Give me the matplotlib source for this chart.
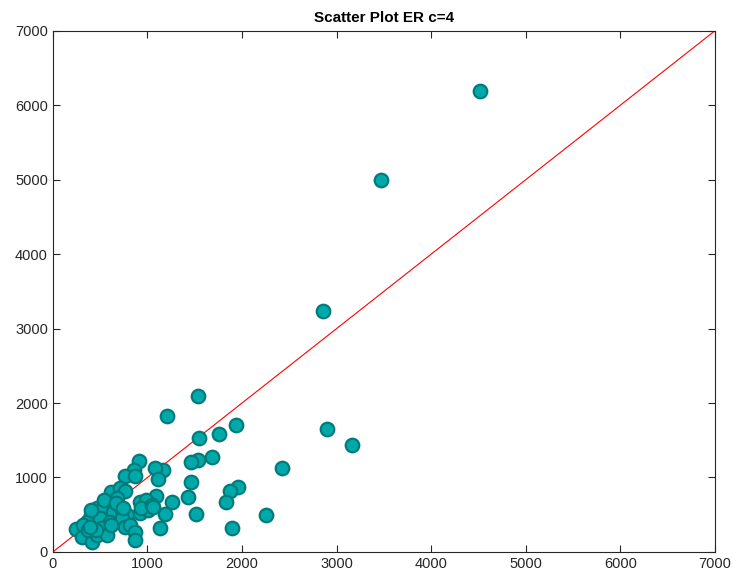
import matplotlib
matplotlib.use('Agg')
import matplotlib.pyplot as plt

plt.rcParams['font.family'] = ['Liberation Sans', 'DejaVu Sans']

# estimated values
x_vals = [4515, 3470, 2855, 2900, 3160, 2420, 1537, 1205, 1932, 1547, 1759,
          1678, 1530, 1456, 1160, 1075, 1117, 1459, 1956, 1872, 1086, 1431,
          1836, 1265, 1181, 1509, 2249, 1135, 1896,
          913, 857, 768, 867, 620, 708, 761, 673, 568, 462, 427, 531, 638,
          726, 779, 391, 356, 497, 603, 726, 250, 303, 409, 462, 514, 568,
          620, 761, 814, 867, 867, 320, 373, 920, 990, 920, 1008, 937, 1044,
          1057, 458, 405, 546, 670, 740, 388]
y_vals = [6190, 5000, 3240, 1650, 1440, 1130, 2090, 1830, 1711, 1527, 1581,
          1276, 1236, 1209, 1102, 1124, 981, 945, 878, 820, 748, 744,
          667, 676, 511, 511, 492, 318, 318,
          1223, 1102, 1025, 1025, 811, 855, 820, 721, 676, 587, 520, 587, 543,
          564, 497, 452, 407, 452, 407, 452, 309, 206, 130, 228, 318, 228,
          363, 340, 363, 273, 161, 363, 296, 676, 699, 520, 564, 587, 631,
          609, 296, 564, 699, 654, 587, 340]
line_x = [0, 7000]
line_y = [0, 7000]
x_ticks = [0, 1000, 2000, 3000, 4000, 5000, 6000, 7000]
y_ticks = [0, 1000, 2000, 3000, 4000, 5000, 6000, 7000]

fig = plt.figure(figsize=(7.34, 5.81), dpi=100)
ax = fig.add_axes([0.072, 0.050, 0.902, 0.897])

ax.scatter(x_vals, y_vals, s=95, c='#00a9a9', edgecolors='#007b7b',
           linewidths=1.6, zorder=3)
ax.plot(line_x, line_y, color='red', linewidth=0.8, zorder=2)

ax.set_xlim(0, 7000)
ax.set_ylim(0, 7000)
ax.set_xticks(x_ticks)
ax.set_yticks(y_ticks)
ax.tick_params(direction='in', top=True, right=True, labelsize=10.5,
               length=5, colors='#262626')
for s in ax.spines.values():
    s.set_color('#262626')
    s.set_linewidth(0.8)
ax.set_title('Scatter Plot ER c=4', fontsize=11, fontweight='bold', pad=6)

fig.savefig('out.png', dpi=100)
